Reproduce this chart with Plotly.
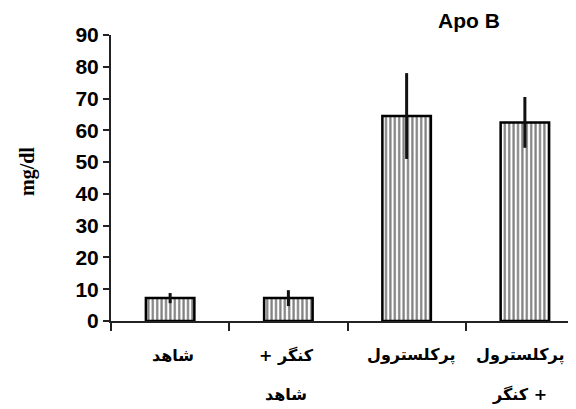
import plotly.graph_objects as go

categories = ["شاهد", "کنگر + شاهد", "پرکلسترول", "پرکلسترول + کنگر"]
label_line1 = ["شاهد", "+ کنگر", "پرکلسترول", "پرکلسترول"]
label_line2 = ["", "شاهد", "", "کنگر +"]
means = [7.2, 7.2, 64.5, 62.5]
errors = [1.6, 2.5, 13.5, 8.0]
y_ticks = [0, 10, 20, 30, 40, 50, 60, 70, 80, 90]

# page body adds an 8px offset, so figure coords = window coords - 8
OFF = 8
W, H = 576, 409
L, R, T, B = 111 - OFF, 0, 35 - OFF, 409 - (321 - OFF)
pw, ph = W - L - R, H - T - B


def px_x(x):
    return (x - OFF - L) / pw


def px_y(y):
    return 1 - (y - OFF - T) / ph


fig = go.Figure()

fig.add_trace(go.Bar(
    x=categories,
    y=means,
    width=0.41,
    marker=dict(
        color="white",
        line=dict(color="black", width=2.5),
        pattern=dict(shape="|", fgcolor="black", bgcolor="white", size=4.4, solidity=0.5),
    ),
    error_y=dict(type="data", array=errors, visible=True, color="#111111", thickness=3, width=0),
    showlegend=False,
))

annotations = [
    dict(text="<b>Apo B</b>", x=px_x(469), y=px_y(21),
         font=dict(size=21, family="Liberation Sans")),
    dict(text="<b>mg/dl</b>", x=px_x(28), y=px_y(172), textangle=-90,
         font=dict(size=20, family="Liberation Serif")),
]
# small horizontal nudges seen in the reference labels
label_shift = [3, -2, 4, -5]
for i, (l1, l2) in enumerate(zip(label_line1, label_line2)):
    annotations.append(dict(text="<b>" + l1 + "</b>", x=categories[i], xref="x", y=px_y(355),
                            xshift=label_shift[i], font=dict(size=16, family="DejaVu Sans")))
    if l2:
        annotations.append(dict(text="<b>" + l2 + "</b>", x=categories[i], xref="x", y=px_y(394),
                                xshift=label_shift[i], font=dict(size=16, family="DejaVu Sans")))
for a in annotations:
    a.setdefault("xref", "paper")
    a.update(yref="paper", showarrow=False, xanchor="center", yanchor="middle")
    a["font"]["color"] = "black"

fig.update_layout(
    width=W,
    height=H,
    margin=dict(l=L, r=R, t=T, b=B),
    plot_bgcolor="white",
    paper_bgcolor="white",
    font=dict(family="Liberation Sans", color="black"),
    annotations=annotations,
)

fig.update_xaxes(
    range=[-0.5, 3.5], automargin=False,
    showline=True, linecolor="#222222", linewidth=2,
    ticks="outside", tickson="boundaries", ticklen=8, tickwidth=2, tickcolor="#222222",
    showticklabels=False,
    showgrid=False,
)
fig.update_yaxes(
    range=[0, 90], automargin=False,
    tickvals=y_ticks, ticktext=["<b>%d</b>" % v for v in y_ticks],
    showline=True, linecolor="#222222", linewidth=2,
    ticks="outside", ticklen=6, tickwidth=2, tickcolor="#222222",
    tickfont=dict(size=21, family="Liberation Sans", color="black"),
    showgrid=False, zeroline=False,
)

fig.write_html("out.html")
